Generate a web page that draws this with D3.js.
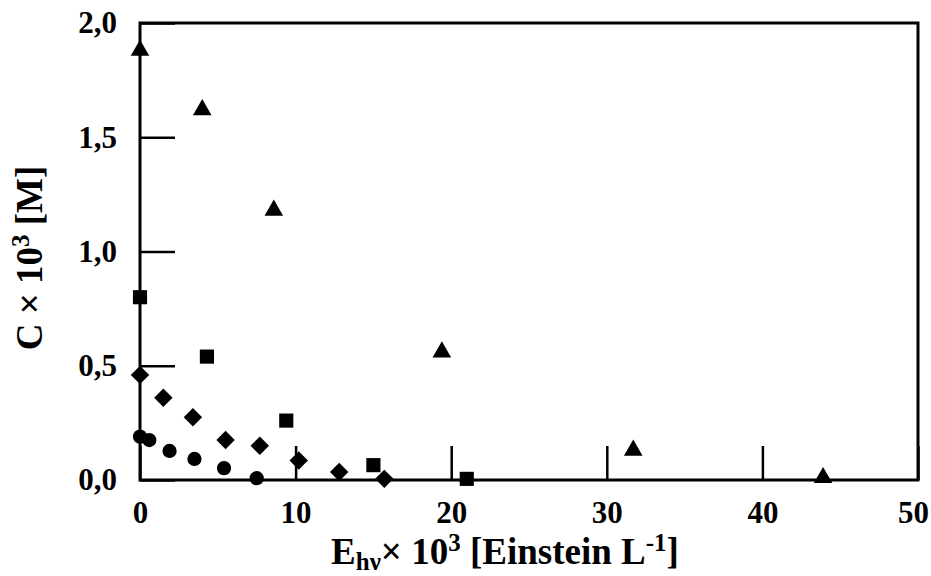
<!DOCTYPE html>
<html>
<head>
<meta charset="utf-8">
<script src="https://cdn.jsdelivr.net/npm/d3@7"></script>
<style>
  body { margin: 0; background: #fff; }
  text { font-family: "Liberation Serif", "Times New Roman", serif; font-weight: bold; fill: #000; }
</style>
</head>
<body>
<div id="chart"></div>
<script>
// data (x = E x 10^3, y = C x 10^3)
let triX = [0, 4.0, 8.6, 19.4, 31.7, 43.9];
let triY = [1.88, 1.62, 1.18, 0.56, 0.13, 0.01];
let sqX = [0, 4.3, 9.4, 15.0, 21.0];
let sqY = [0.80, 0.54, 0.26, 0.065, 0.005];
let diaX = [0, 1.5, 3.4, 5.5, 7.7, 10.2, 12.8, 15.7];
let diaY = [0.46, 0.36, 0.275, 0.175, 0.15, 0.085, 0.035, 0.005];
let cirX = [0, 0.6, 1.9, 3.5, 5.4, 7.5];
let cirY = [0.19, 0.175, 0.127, 0.092, 0.052, 0.008];
let xTicks = [0, 10, 20, 30, 40, 50];
let yTicks = [0, 0.5, 1.0, 1.5, 2.0];

let width = 931;
let height = 576;
let margin = { left: 140, right: 13, top: 23, bottom: 96 };

let svg = d3.select("#chart").append("svg")
  .attr("width", width)
  .attr("height", height);

let x = d3.scaleLinear().domain([0, 50]).range([margin.left, width - margin.right]);
let y = d3.scaleLinear().domain([0, 2]).range([height - margin.bottom, margin.top]);

// axes with inward ticks
let xAxis = svg.append("g")
  .attr("transform", "translate(0," + (height - margin.bottom) + ")")
  .call(d3.axisBottom(x).tickValues(xTicks).tickSizeInner(-34).tickSizeOuter(0).tickPadding(21)
    .tickFormat(d3.format("d")));

let yAxis = svg.append("g")
  .attr("transform", "translate(" + margin.left + ",0)")
  .call(d3.axisLeft(y).tickValues(yTicks).tickSizeInner(-35).tickSizeOuter(0).tickPadding(23)
    .tickFormat(function(d) { return d3.format(".1f")(d).replace(".", ","); }));

[xAxis, yAxis].forEach(function(a) {
  a.select(".domain").remove();
  a.selectAll(".tick line").attr("stroke", "#000").attr("stroke-width", 2.5);
  a.selectAll(".tick text").style("font-size", "31px");
});

// keep the last x label inside the page
xAxis.selectAll(".tick text").filter(function(d) { return d === 50; }).attr("dx", -5);

// frame
svg.append("rect")
  .attr("x", margin.left)
  .attr("y", margin.top)
  .attr("width", width - margin.left - margin.right)
  .attr("height", height - margin.top - margin.bottom)
  .attr("fill", "none")
  .attr("stroke", "#000")
  .attr("stroke-width", 3);

// markers
function drawSeries(xs, ys, type, size, rotate) {
  let sym = d3.symbol().type(type).size(size);
  svg.append("g").selectAll("path")
    .data(xs.map(function(v, i) { return [v, ys[i]]; }))
    .enter().append("path")
    .attr("d", sym)
    .attr("fill", "#000")
    .attr("transform", function(d) {
      return "translate(" + x(d[0]) + "," + y(d[1]) + ")" + (rotate ? " rotate(45)" : "");
    });
}

drawSeries(cirX, cirY, d3.symbolCircle, 160, false);
drawSeries(diaX, diaY, d3.symbolSquare, 170, true);
drawSeries(sqX, sqY, d3.symbolSquare, 200, false);
drawSeries(triX, triY, d3.symbolTriangle, 150, false);

// x label
let xl = svg.append("text")
  .attr("x", 505)
  .attr("y", 564)
  .attr("text-anchor", "middle")
  .style("font-size", "37px");
xl.append("tspan").text("E");
xl.append("tspan").attr("dy", 6).style("font-size", "25px").text("hν");
xl.append("tspan").attr("dy", -6).text("× 10");
xl.append("tspan").attr("dy", -13).style("font-size", "25px").text("3");
xl.append("tspan").attr("dy", 13).text(" [Einstein L");
xl.append("tspan").attr("dy", -13).style("font-size", "25px").text("-1");
xl.append("tspan").attr("dy", 13).text("]");

// y label
let yl = svg.append("text")
  .attr("transform", "translate(42,258) rotate(-90)")
  .attr("text-anchor", "middle")
  .style("font-size", "37px");
yl.append("tspan").text("C × 10");
yl.append("tspan").attr("dy", -13).style("font-size", "25px").text("3");
yl.append("tspan").attr("dy", 13).text(" [M]");
</script>
</body>
</html>
